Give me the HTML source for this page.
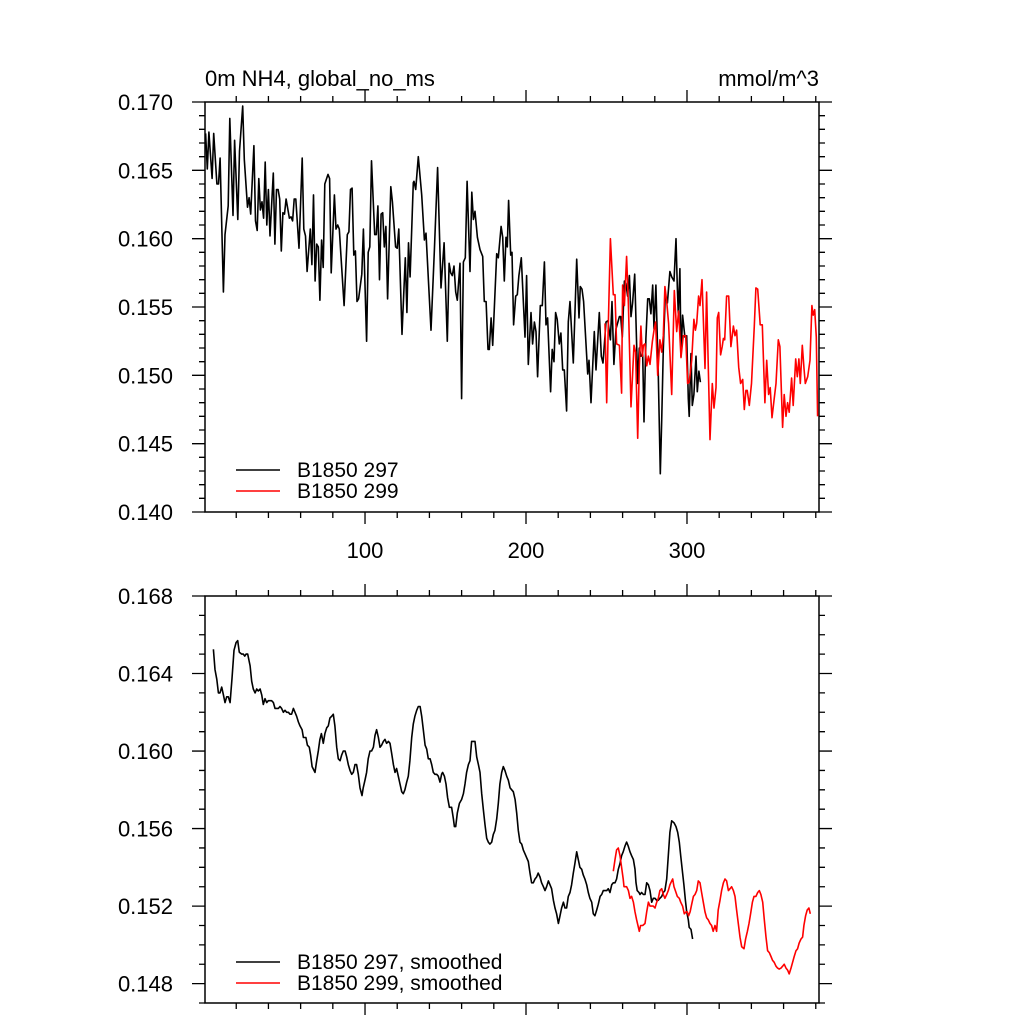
<!DOCTYPE html>
<html><head><meta charset="utf-8"><style>
html,body{margin:0;padding:0;background:#fff;}
svg{display:block;font-family:"Liberation Sans",Arial,sans-serif;}
</style></head><body>
<svg id="chart" width="1024" height="1024" viewBox="0 0 1024 1024">
<text x="205" y="86" font-size="22">0m NH4, global_no_ms</text>
<text x="819" y="86" font-size="22" text-anchor="end">mmol/m^3</text>
</svg>
<script>
// ---------- data ----------
const blackYears1=[1,2,3,5,6,8,9,10,12,13,15,16,18,19,21,22,24,25,27,28,29,31,32,33,34,35,36,37,38,39,40,41,43,44,45,46,47,48,49,50,51,53,54,55,56,57,59,61,62,63,64,66,67,68,69,70,71,72,73,74,75,77,78,79,81,82,83,84,85,87,89,90,91,92,93,94,95,96,98,99,101,102,103,104,106,107,108,109,110,111,112,113,114,116,117,119,120,121,123,125,126,127,128,130];
const blackVals1=[167.7,165.1,167.8,164.4,167.7,164.0,164.0,165.9,156.1,160.3,162.4,168.8,161.7,167.2,161.4,166.4,169.7,165.8,162.3,163.0,161.8,166.8,161.3,160.6,164.4,162.1,162.7,161.5,165.6,161.0,163.6,160.2,164.8,159.6,163.6,163.6,162.9,159.1,161.9,161.8,162.9,161.5,161.6,161.3,162.9,162.9,159.3,165.9,160.7,160.2,157.6,160.7,158.1,163.2,156.9,159.6,159.4,155.5,159.9,157.9,164.0,164.7,164.4,157.5,163.2,160.7,161.0,160.7,158.8,155.1,160.3,160.5,163.6,163.7,158.8,159.1,155.4,155.6,157.4,160.7,152.5,159.0,159.4,165.7,160.3,160.3,162.4,157.0,161.8,161.9,159.4,160.9,155.6,163.8,162.7,159.4,159.3,160.7,153.0,158.6,154.6,159.7,157.2,164.1];
const blackYears2=[130.4,131.5,133.1,135.2,136.9,137.9,139.5,141.0,143.1,145.1,147.2,149.1,151.1,152.2,153.2,154.2,155.3,156.3,157.3,159.0,160.0,161.1,162.3,163.4,165.2,166.3,167.3,168.3,169.8,171.4,173.1,174.1,175.2,176.4,177.2,178.3,179.3,181.8,182.8,184.5,185.5,186.5,187.6,188.4,189.2,190.5,191.3,192.3,193.6,194.6,195.6,197.1,199.4,200.4,201.4,203.1,204.1,205.2,206.2,207.2,208.9,210.1,211.4,212.4,213.4,215.3,216.3,217.4,218.4,219.4,220.7,221.7,222.8,223.8,225.2,226.3,227.3,229.4,231.5,232.9,233.7,234.8,235.8,238.3,239.1,240.4,242.4,243.5,245.5,246.8,247.8,249.7,250.9,252.4,253.4,254.6,255.9,258.0];
const blackVals2=[164.2,163.6,166.0,163.2,159.9,160.4,156.7,153.3,159.2,165.2,156.4,159.7,152.5,158.2,157.5,157.3,158.0,156.1,155.5,158.2,148.3,158.3,158.6,164.2,157.6,163.4,161.4,162.0,160.1,159.2,158.7,155.4,155.4,151.9,151.9,154.2,152.2,158.9,158.6,160.9,160.1,156.9,160.1,159.4,162.8,158.8,159.0,153.7,155.8,155.9,157.3,158.6,152.8,157.3,150.8,154.6,152.3,153.9,153.2,149.9,155.1,155.1,158.3,153.7,154.2,148.8,151.9,151.0,154.6,154.1,152.3,153.1,150.4,150.4,147.4,153.9,155.4,150.9,158.5,154.2,156.5,156.3,155.4,150.1,151.1,148.0,153.2,150.4,154.6,151.4,150.9,153.9,154.0,152.6,155.4,150.8,153.4,154.3];
const blackYears3=[258.8,259.8,261.1,262.1,263.1,264.2,265.2,266.2,267.5,269.4,270.4,271.4,272.5,273.3,274.5,275.6,276.6,277.6,278.7,279.5,280.7,282.2,283.4,284.3,285.3,286.5,287.8,289.4,290.5,291.9,293.2,294.0,294.6,295.6,296.3,297.3,298.7,299.8,300.8,301.4,302.5,303.3,304.3,305.6,306.4,307.4,308.3];
const blackVals3=[154.3,152.8,156.9,156.7,155.8,157.3,154.3,155.3,157.4,149.4,152.0,151.4,151.5,146.6,152.7,155.6,155.6,154.5,156.6,153.4,156.6,150.0,142.8,146.7,151.9,155.9,155.3,157.6,157.2,156.9,160.0,156.5,154.5,157.8,151.4,154.4,152.8,152.9,148.3,147.0,151.6,147.8,148.6,151.4,148.8,150.3,149.5];
const redYears=[249.1,250.1,251.1,252.4,254.2,255.3,256.3,258.0,259.4,260.0,261.1,262.5,263.6,265.2,267.1,268.1,269.4,270.4,271.4,272.3,272.9,273.9,275.0,276.0,277.0,278.5,279.5,280.5,281.8,283.2,284.3,285.3,286.3,287.4,288.6,290.5,292.1,293.6,294.8,296.3,297.7,299.2,300.4,301.4,302.9,304.3,305.2,306.0,307.2,308.1,309.3,311.2,312.2,313.2,314.3,315.7,316.8,318.0,318.8,319.7,320.9,321.9,322.6,323.4,324.6,325.9,327.3,328.8,329.8,330.8,332.1,333.3,334.6,335.6,336.6,337.4,338.7,340.1,341.8,342.8,343.9,345.5,346.8,348.4,349.5,350.7,351.7,352.8,354.0,355.3,356.7,357.7,359.4,360.4,361.5,362.5,363.5,365.0,366.0,367.5,368.5,369.5,370.4,371.6,372.7,373.5,375.0,376.4,377.6,378.4,379.3,380.3,381.1];
const redVals=[153.8,148.0,153.7,160.0,155.9,155.9,152.3,152.2,148.7,156.6,155.1,158.7,155.2,147.7,152.2,151.7,145.4,150.6,153.6,151.4,152.2,152.3,150.7,151.4,150.8,152.5,153.3,153.9,150.0,152.6,151.7,152.9,156.5,155.4,153.8,148.6,156.2,153.2,154.7,151.3,152.9,152.9,149.4,149.5,151.1,154.1,153.3,153.8,155.8,155.1,157.0,150.5,156.1,150.9,145.3,149.4,147.6,149.1,154.2,154.6,151.5,152.1,152.7,152.6,155.8,155.8,152.1,153.6,152.9,153.3,150.6,149.4,149.7,147.5,148.9,148.9,147.8,149.4,153.6,156.4,156.3,153.7,153.7,148.0,151.1,148.6,149.1,146.9,148.1,149.4,152.6,152.1,146.2,148.6,147.0,148.0,147.3,149.8,147.8,151.2,149.9,151.2,149.4,152.2,150.5,149.4,149.9,151.1,155.1,154.4,154.8,152.8,147.0];

const smBlackYears1=[5.8,6.8,7.9,8.9,9.9,11.0,12.0,13.0,14.1,15.1,16.2,17.4,18.6,19.9,20.9,21.9,23.4,24.4,25.3,26.1,27.1,28.6,29.6,30.6,31.7,32.7,33.7,34.8,35.8,36.8,37.9,38.9,39.9,41.0,42.0,43.1,44.1,45.1,46.2,47.2,48.2,49.3,50.3,51.3,52.4,53.4,54.4,55.5,56.5,57.5,58.6,59.6,60.9,61.7,63.3,64.2,65.4,66.2,67.1,68.9,70.0,71.0,72.0,72.9,74.1,75.1,76.2,77.2,78.2,79.3,80.3,81.3,82.4,83.4,84.5,85.5,86.5,87.6,88.6,89.6,90.7,91.7,92.7,93.8,94.8,95.8,96.9,98.1,98.9,100.0,101.0,102.0,103.1,104.1,105.2,106.2,107.2,108.3,109.3,110.3,111.4,112.4,113.4,114.5,115.5,116.5,117.6,118.6,119.6,120.7,121.7,122.8,123.8,124.8,125.9,126.9,127.9,129.0,130.0,131.0,132.1,133.1];
const smBlackVals1=[165.25,164.2,163.7,163.0,163.0,163.3,162.9,162.5,162.8,162.8,162.5,163.75,165.2,165.6,165.7,165.1,165.0,165.0,164.9,165.0,165.0,164.4,163.6,163.2,163.0,163.2,163.1,163.2,162.9,162.4,162.7,162.5,162.6,162.6,162.6,162.5,162.2,162.2,162.2,162.3,162.2,162.0,162.1,162.0,162.0,161.9,161.9,162.2,162.0,161.8,161.5,161.3,161.1,160.7,160.7,160.3,160.2,159.8,159.2,158.9,159.5,160.0,160.6,160.9,160.4,160.9,161.2,161.3,161.7,161.8,161.9,161.3,160.2,159.6,159.5,159.8,160.0,160.0,159.7,159.3,159.0,158.8,158.9,159.3,159.3,158.8,158.1,157.7,158.1,158.5,158.9,159.6,160.0,160.0,160.2,160.8,161.1,160.7,160.2,160.3,160.5,160.6,160.4,160.5,160.4,159.9,159.3,158.9,159.1,158.7,158.3,157.9,157.8,158.0,158.4,158.7,159.5,160.7,161.4,161.8,162.1,162.3];
const smBlackYears2=[134.2,135.2,136.2,137.3,138.3,139.3,140.4,141.4,142.4,143.5,144.5,145.5,146.6,147.6,148.2,149.3,150.3,151.3,152.4,153.8,154.9,155.5,156.3,157.3,158.6,160.0,161.1,162.1,163.1,164.2,165.2,166.2,167.3,168.3,169.4,170.4,171.4,172.5,173.5,174.5,175.6,176.6,177.6,178.7,179.7,180.7,181.8,182.8,183.8,184.9,185.9,186.9,188.0,189.0,190.1,191.1,192.1,193.2,194.2,195.2,196.3,197.3,198.3,199.4,200.4,201.4,202.5,203.5,204.5,205.6,206.6,207.6,208.7,209.7,210.8,211.8,212.8,213.9,214.9,215.9,217.0,218.0,219.0,220.1,221.1,222.1,223.2,224.2,225.2,226.3,227.3,228.3,229.4,230.4,231.5,232.5,233.5,234.6,235.6,236.6,237.7,238.7,239.7,240.8,241.8,242.8,243.9,244.9,246.0,247.0,248.0,249.0,250.1,251.1,252.2,253.2,254.2,255.3,256.3,257.3,258.4,259.4,260.4,261.5,262.5,263.5,264.6];
const smBlackVals2=[162.3,161.8,161.1,160.3,160.1,159.6,159.6,159.3,158.9,158.8,158.8,158.7,158.4,158.8,158.9,158.7,158.3,157.6,157.1,157.1,156.5,156.1,156.1,156.8,157.3,157.5,157.8,158.3,158.9,159.3,159.5,160.5,160.5,160.5,159.7,159.3,158.9,157.8,157.0,156.2,155.5,155.3,155.2,155.3,155.7,155.9,156.5,157.3,158.3,158.9,159.2,159.0,158.7,158.5,158.1,158.0,157.9,157.5,156.8,155.9,155.3,155.2,154.9,154.7,154.5,154.3,153.7,153.2,153.2,153.4,153.5,153.7,153.5,153.2,153.0,152.8,153.0,153.3,153.1,152.9,152.3,151.9,151.6,151.1,151.5,151.9,152.2,151.9,151.9,152.5,152.7,153.1,153.7,154.2,154.8,154.4,154.0,153.9,153.6,153.4,153.1,152.7,152.4,152.2,151.6,151.5,151.8,152.1,152.5,152.6,152.8,152.8,152.8,152.9,152.7,153.1,153.2,153.2,153.4,153.9,154.2,154.6,154.8,155.1,155.3,155.1,154.8];
const smBlackYears3=[265.6,266.7,267.7,268.3,269.1,270.2,270.8,271.8,272.9,273.9,275.0,276.0,277.0,278.1,279.1,280.1,281.2,282.2,283.2,284.3,285.3,286.3,287.4,288.4,289.4,290.5,291.9,293.2,294.2,295.2,296.1,297.3,298.1,299.0,299.8,300.8,301.4,302.5,303.5];
const smBlackVals3=[154.6,154.4,153.9,153.2,152.8,152.7,152.6,152.7,152.6,152.6,153.2,153.1,152.8,152.2,152.4,152.4,152.3,152.3,152.4,152.5,152.7,152.8,153.4,154.6,155.8,156.4,156.3,156.1,155.8,155.3,154.6,153.7,153.1,152.3,151.7,151.3,150.9,150.8,150.3];
const smRedYears=[254.2,255.3,256.3,257.3,258.4,259.4,260.4,260.9,262.5,263.6,264.6,265.6,266.7,267.7,268.7,269.8,270.4,271.2,272.5,273.9,275.0,276.0,277.0,278.1,279.1,280.1,281.2,282.2,283.2,284.3,285.3,286.3,287.4,288.4,289.4,290.5,291.1,291.9,293.2,294.0,295.2,296.1,297.3,298.3,299.4,300.2,301.0,301.9,302.9,304.0,305.0,306.0,307.0,308.1,309.1,310.1,311.2,312.2,313.2,314.3,315.3,316.3,317.4,318.4,319.4,320.5,321.5,322.6,323.6,324.6,325.7,326.7,327.7,328.8,329.8,330.8,331.9,332.9,334.0,335.4,336.4,337.5,338.5,339.5,340.6,341.6,342.8,343.9,344.9,345.9,347.0,348.0,349.1,350.1,351.1,352.2,353.2,354.2,355.3,356.3,357.3,358.4,359.4,360.4,361.5,362.5,363.5,364.6,365.6,366.6,367.7,368.7,369.7,370.8,371.8,372.6,373.7,374.7,375.7,376.6];
const smRedVals=[153.8,154.4,154.9,155.0,154.6,154.0,153.4,153.0,153.0,152.8,152.4,152.5,152.2,151.7,151.3,150.9,150.7,151.0,151.0,151.1,151.7,152.2,152.0,152.0,152.0,151.9,152.2,152.4,152.8,152.9,152.6,152.4,152.6,152.8,153.1,153.3,153.4,153.0,152.7,152.5,152.4,152.2,152.0,151.6,151.7,151.7,151.5,151.7,152.1,152.5,152.6,152.8,153.3,153.2,152.7,152.2,151.7,151.4,151.3,151.1,151.0,150.7,151.0,150.7,151.8,152.3,152.8,153.2,153.4,153.3,152.8,152.9,153.0,152.8,152.5,151.8,151.1,150.4,149.9,149.8,150.3,150.7,151.1,151.6,152.2,152.5,152.5,152.7,152.8,152.6,152.2,151.3,150.4,149.7,149.6,149.4,149.2,149.1,148.9,148.8,148.75,148.8,148.9,149.0,148.8,148.7,148.5,148.8,149.1,149.4,149.7,149.8,150.1,150.3,150.4,151.0,151.5,151.8,151.9,151.6];

const xTickLabels=[100,200,300];
const topYTickLabels=["0.140","0.145","0.150","0.155","0.160","0.165","0.170"];
const topYTickValues=[140,145,150,155,160,165,170];
const botYTickLabels=["0.148","0.152","0.156","0.160","0.164","0.168"];
const botYTickValues=[148,152,156,160,164,168];

// ---------- drawing ----------
const NS="http://www.w3.org/2000/svg";
const svg=document.getElementById('chart');
const X0=205,X1=819;
const xDom=[0.6,382];
function xs(v){return X0+(v-xDom[0])/(xDom[1]-xDom[0])*(X1-X0);}
const topP={y0:102,y1:512,v0:170,v1:140};
const botP={y0:596,y1:1003,v0:168,v1:147};
function ys(p,v){return p.y0+(p.v0-v)/(p.v0-p.v1)*(p.y1-p.y0);}
function mk(tag,attrs){const e=document.createElementNS(NS,tag);for(const k in attrs)e.setAttribute(k,attrs[k]);svg.appendChild(e);return e;}

function drawFrame(p,name,yVals,yLabels,minorStep,showXLabels){
  const f=mk('rect',{x:X0,y:p.y0,width:X1-X0,height:p.y1-p.y0,fill:'none',stroke:'#000','stroke-width':1.5});
  
  
  let d='';
  for(let v=0;v<=382;v+=20){const x=xs(v);if(x<X0+1)continue;const L=(v%100===0)?12:6;
    d+=`M${x},${p.y1}v${L}M${x},${p.y0}v${-L}`;}
  for(let v=p.v1;v<=p.v0+1e-6;v+=minorStep){const y=ys(p,v);const maj=yVals.some(t=>Math.abs(t-v)<1e-6);const L=maj?13:6;
    d+=`M${X0},${y}h${-L}M${X1},${y}h${L}`;}
  const t=mk('path',{d:d,stroke:'#000','stroke-width':1.3,fill:'none'});
  
  
  yVals.forEach((v,i)=>{const tx=mk('text',{x:173,y:ys(p,v)+8,'font-size':22,'text-anchor':'end'});tx.textContent=yLabels[i];
    
    });
  if(showXLabels){xTickLabels.forEach(v=>{const tx=mk('text',{x:xs(v),y:p.y1+46,'font-size':22,'text-anchor':'middle'});tx.textContent=v;
    
    });}
}
function line(p,xsArr,vsArr,color,name){
  const n=Math.min(xsArr.length,vsArr.length);let d='';
  for(let i=0;i<n;i++){d+=(i?'L':'M')+xs(xsArr[i]).toFixed(1)+','+ys(p,vsArr[i]).toFixed(1);}
  const e=mk('path',{d:d,stroke:color,'stroke-width':1.6,fill:'none','stroke-linejoin':'round'});
  
  
  return d;
}
function legend(y,color,label,name){
  const l=mk('line',{x1:236,x2:280,y1:y,y2:y,stroke:color,'stroke-width':1.6});
  
  
  const t=mk('text',{x:297,y:y+7,'font-size':21});t.textContent=label;
  
  
}
drawFrame(topP,'top-panel',topYTickValues,topYTickLabels,1,true);
drawFrame(botP,'bottom-panel',botYTickValues,botYTickLabels,1,false);
const bY=blackYears1.concat(blackYears2,blackYears3), bV=blackVals1.concat(blackVals2,blackVals3);
line(topP,bY,bV,'#000','series-b1850-297');
line(topP,redYears,redVals,'#ff0000','series-b1850-299');
const sbY=smBlackYears1.concat(smBlackYears2,smBlackYears3), sbV=smBlackVals1.concat(smBlackVals2,smBlackVals3);
line(botP,sbY,sbV,'#000','series-b1850-297-smoothed');
line(botP,smRedYears,smRedVals,'#ff0000','series-b1850-299-smoothed');
legend(470,'#000','B1850 297','legend-entry-297');
legend(491,'#ff0000','B1850 299','legend-entry-299');
legend(962,'#000','B1850 297, smoothed','legend-entry-297-smoothed');
legend(983,'#ff0000','B1850 299, smoothed','legend-entry-299-smoothed');
</script>
</body></html>
